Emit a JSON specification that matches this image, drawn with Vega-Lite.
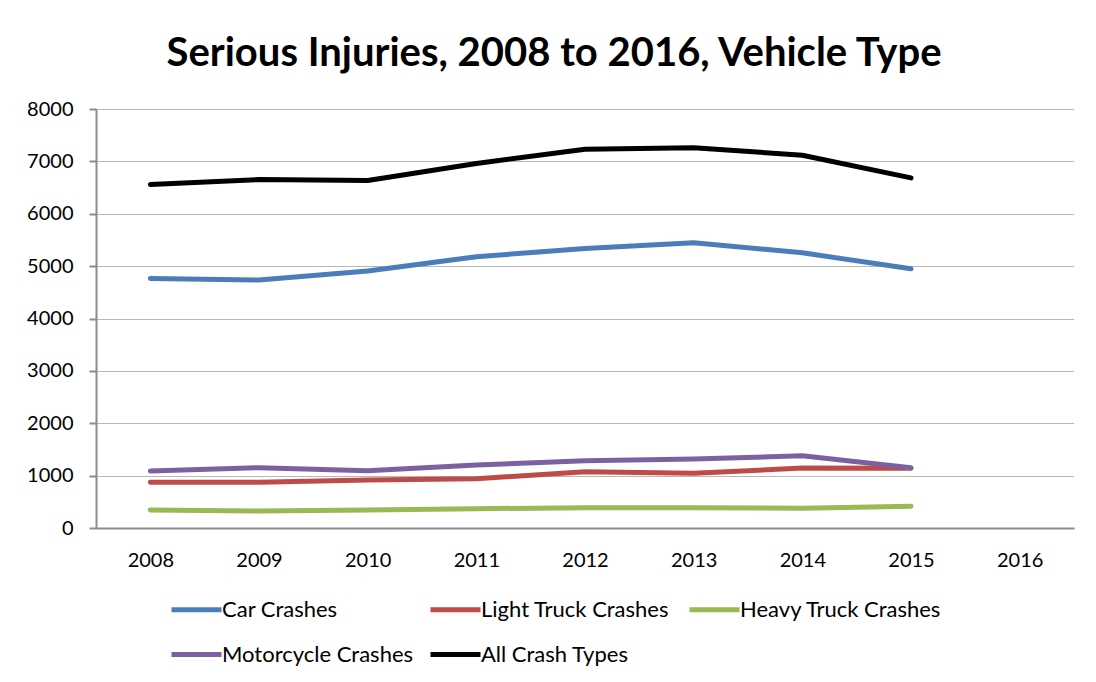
{
  "$schema": "https://vega.github.io/schema/vega-lite/v6.json",
  "autosize": "none",
  "width": 978,
  "height": 419,
  "padding": {"left": 96, "top": 109, "right": 22, "bottom": 154},
  "background": "white",
  "title": {
    "text": "Serious Injuries, 2008 to 2016, Vehicle Type",
    "font": "Lato",
    "fontSize": 40,
    "fontWeight": "bold",
    "color": "black",
    "anchor": "middle",
    "dx": -31,
    "offset": 25
  },
  "config": {
    "view": {"stroke": null},
    "font": "Lato"
  },
  "data": {
    "values": [
      {"Year": "2008", "Type": "Car Crashes", "Injuries": 4765},
      {"Year": "2009", "Type": "Car Crashes", "Injuries": 4733},
      {"Year": "2010", "Type": "Car Crashes", "Injuries": 4905},
      {"Year": "2011", "Type": "Car Crashes", "Injuries": 5178},
      {"Year": "2012", "Type": "Car Crashes", "Injuries": 5338},
      {"Year": "2013", "Type": "Car Crashes", "Injuries": 5445},
      {"Year": "2014", "Type": "Car Crashes", "Injuries": 5254},
      {"Year": "2015", "Type": "Car Crashes", "Injuries": 4948},
      {"Year": "2008", "Type": "Light Truck Crashes", "Injuries": 872},
      {"Year": "2009", "Type": "Light Truck Crashes", "Injuries": 875},
      {"Year": "2010", "Type": "Light Truck Crashes", "Injuries": 916},
      {"Year": "2011", "Type": "Light Truck Crashes", "Injuries": 941},
      {"Year": "2012", "Type": "Light Truck Crashes", "Injuries": 1075},
      {"Year": "2013", "Type": "Light Truck Crashes", "Injuries": 1044},
      {"Year": "2014", "Type": "Light Truck Crashes", "Injuries": 1145},
      {"Year": "2015", "Type": "Light Truck Crashes", "Injuries": 1140},
      {"Year": "2008", "Type": "Heavy Truck Crashes", "Injuries": 344},
      {"Year": "2009", "Type": "Heavy Truck Crashes", "Injuries": 324},
      {"Year": "2010", "Type": "Heavy Truck Crashes", "Injuries": 344},
      {"Year": "2011", "Type": "Heavy Truck Crashes", "Injuries": 369},
      {"Year": "2012", "Type": "Heavy Truck Crashes", "Injuries": 388},
      {"Year": "2013", "Type": "Heavy Truck Crashes", "Injuries": 388},
      {"Year": "2014", "Type": "Heavy Truck Crashes", "Injuries": 376},
      {"Year": "2015", "Type": "Heavy Truck Crashes", "Injuries": 414},
      {"Year": "2008", "Type": "Motorcycle Crashes", "Injuries": 1088},
      {"Year": "2009", "Type": "Motorcycle Crashes", "Injuries": 1151},
      {"Year": "2010", "Type": "Motorcycle Crashes", "Injuries": 1094},
      {"Year": "2011", "Type": "Motorcycle Crashes", "Injuries": 1202},
      {"Year": "2012", "Type": "Motorcycle Crashes", "Injuries": 1285},
      {"Year": "2013", "Type": "Motorcycle Crashes", "Injuries": 1317},
      {"Year": "2014", "Type": "Motorcycle Crashes", "Injuries": 1380},
      {"Year": "2015", "Type": "Motorcycle Crashes", "Injuries": 1150},
      {"Year": "2008", "Type": "All Crash Types", "Injuries": 6559},
      {"Year": "2009", "Type": "All Crash Types", "Injuries": 6654},
      {"Year": "2010", "Type": "All Crash Types", "Injuries": 6635},
      {"Year": "2011", "Type": "All Crash Types", "Injuries": 6960},
      {"Year": "2012", "Type": "All Crash Types", "Injuries": 7233},
      {"Year": "2013", "Type": "All Crash Types", "Injuries": 7258},
      {"Year": "2014", "Type": "All Crash Types", "Injuries": 7118},
      {"Year": "2015", "Type": "All Crash Types", "Injuries": 6685}
    ]
  },
  "mark": {"type": "line", "strokeWidth": 5, "strokeCap": "round", "strokeJoin": "round"},
  "encoding": {
    "x": {
      "field": "Year",
      "type": "ordinal",
      "scale": {"domain": ["2008", "2009", "2010", "2011", "2012", "2013", "2014", "2015", "2016"], "padding": 0.5},
      "axis": {
        "title": null,
        "labelAngle": 0,
        "labelFont": "Lato",
        "labelFontSize": 20,
        "labelColor": "black",
        "labelPadding": 22,
        "ticks": false,
        "domainColor": "#8c8c8c",
        "domainWidth": 2,
        "grid": false
      }
    },
    "y": {
      "field": "Injuries",
      "type": "quantitative",
      "scale": {"domain": [0, 8000], "nice": false},
      "axis": {
        "title": null,
        "values": [0, 1000, 2000, 3000, 4000, 5000, 6000, 7000, 8000],
        "format": "d",
        "labelFont": "Lato",
        "labelFontSize": 20,
        "labelColor": "black",
        "labelPadding": 16,
        "tickSize": 7,
        "tickColor": "#8c8c8c",
        "tickWidth": 2,
        "domainColor": "#8c8c8c",
        "domainWidth": 2,
        "grid": true,
        "gridColor": "#6e6e6e",
        "gridDash": [1, 1],
        "gridWidth": 1
      }
    },
    "color": {
      "field": "Type",
      "type": "nominal",
      "sort": null,
      "scale": {
        "domain": ["Car Crashes", "Light Truck Crashes", "Heavy Truck Crashes", "Motorcycle Crashes", "All Crash Types"],
        "range": ["#4a7ebb", "#be4b48", "#98b954", "#7d60a0", "#000000"]
      },
      "legend": {
        "title": null,
        "orient": "none",
        "direction": "horizontal",
        "legendX": 73,
        "legendY": 473,
        "columns": 3,
        "gridAlign": "all",
        "symbolType": "stroke",
        "symbolSize": 2500,
        "symbolStrokeWidth": 5,
        "labelFont": "Lato",
        "labelFontSize": 22,
        "labelColor": "black",
        "labelOffset": -2,
        "columnPadding": -4,
        "rowPadding": 6,
        "labelLimit": 400
      }
    }
  }
}
